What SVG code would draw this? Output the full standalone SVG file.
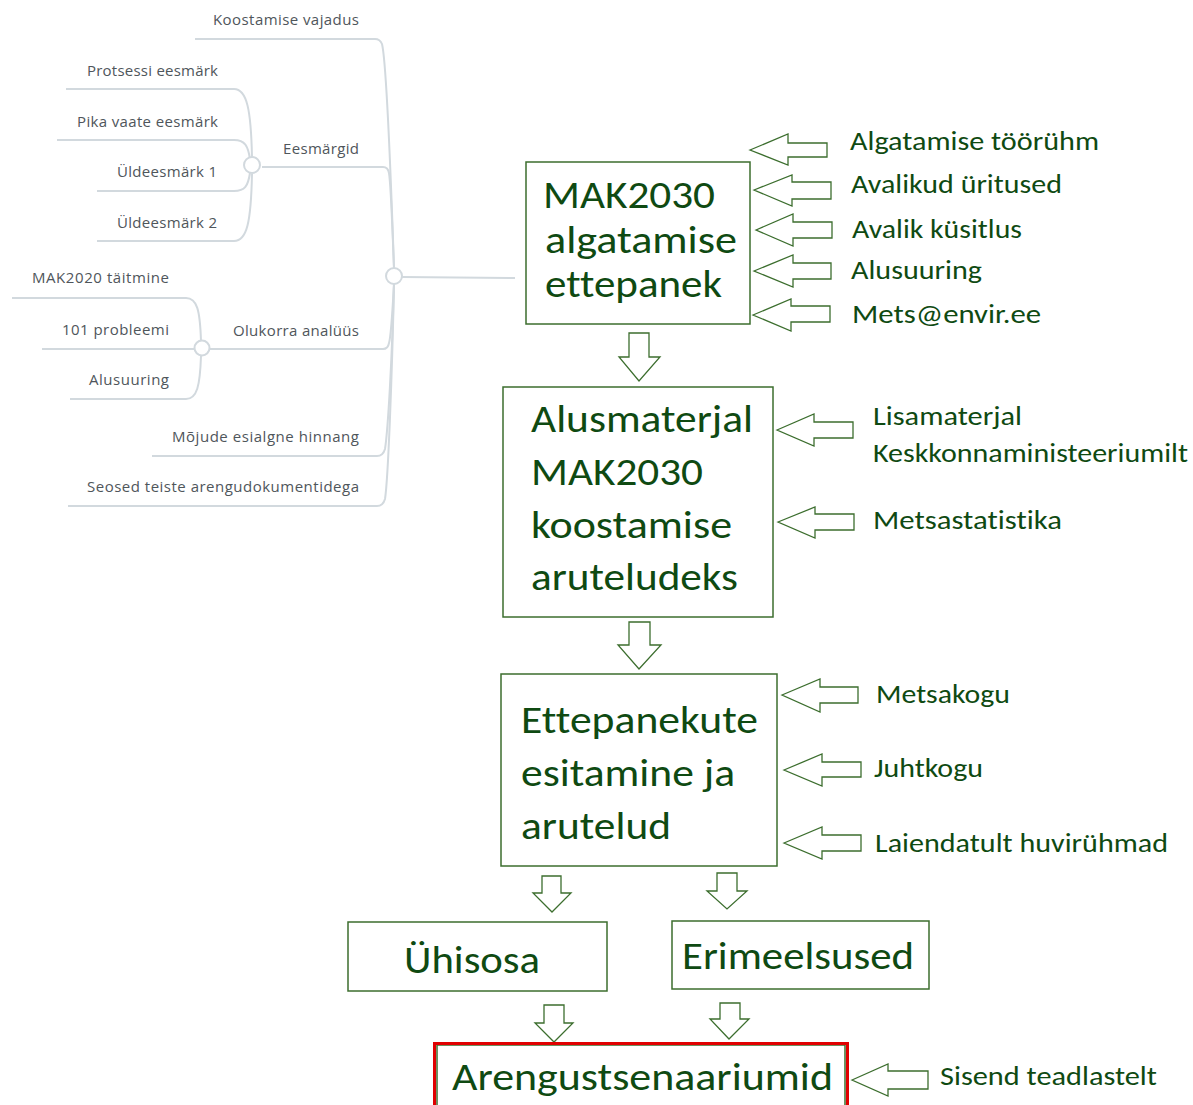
<svg xmlns="http://www.w3.org/2000/svg" width="1193" height="1105" viewBox="0 0 1193 1105">
<style>
.mm{font-family:"Open Sans","Noto Sans","DejaVu Sans",sans-serif;font-size:15px;fill:#4f565b;text-anchor:end}
.mml{fill:none;stroke:#d2d9de;stroke-width:2}
.mmc{fill:#fff;stroke:#d2d9de;stroke-width:2}
.box{fill:#fff;stroke:#3c6e2e;stroke-width:1.5}
.big{font-family:Carlito,Lato,"Open Sans",sans-serif;font-size:38px;fill:#0f4a12;font-variant-ligatures:none}
.lbl{font-family:Carlito,Lato,"Open Sans",sans-serif;font-size:26.5px;fill:#0f4a12;font-variant-ligatures:none}
.arr{fill:#fff;stroke:#3c6e2e;stroke-width:1.3;stroke-linejoin:miter}
</style>
<rect width="1193" height="1105" fill="#fff"/>

<g id="connectors">
  <path class="mml" d="M394,268 C391,180 386,60 382,44 Q380,39 375,39 L195,39"/>
  <path class="mml" d="M394,268 C392,220 391,185 389,173 Q388,167 383,167 L262,167"/>
  <path class="mml" d="M394,284 C392,320 391,337 389,343 Q388,349 383,349 L210,349"/>
  <path class="mml" d="M394,284 C392,360 388,430 385,449 Q383,456 377,456 L152,456"/>
  <path class="mml" d="M394,284 C392,380 388,480 385,499 Q383,506 377,506 L68,506"/>
  <path class="mml" d="M402,277 L515,278"/>
  <path class="mml" d="M252,157 C251,110 247,89 234,89 L66,89"/>
  <path class="mml" d="M250,159 C248,146 245,140 234,140 L57,140"/>
  <path class="mml" d="M250,173 C248,186 245,191 234,191 L97,191"/>
  <path class="mml" d="M252,174 C251,222 247,241 234,241 L97,241"/>
  <path class="mml" d="M201,341 C200,310 197,298 186,298 L12,298"/>
  <path class="mml" d="M195,349 L42,349"/>
  <path class="mml" d="M201,356 C200,386 197,399 186,399 L70,399"/>
  <circle class="mmc" cx="394" cy="276" r="8"/>
  <circle class="mmc" cx="252" cy="165" r="8"/>
  <circle class="mmc" cx="202" cy="348" r="7.5"/>

  <polygon class="arr" points="629,333 649,333 649,357 660,357 639,381 619,357 629,357"/>
  <polygon class="arr" points="629,622 650,622 650,645 661,645 639,669 618,645 629,645"/>
  <polygon class="arr" points="542,876 561,876 561,893 571,893 552,912 533,893 542,893"/>
  <polygon class="arr" points="717,873 737,873 737,891 747,891 727,909 707,891 717,891"/>
  <polygon class="arr" points="544,1005 564,1005 564,1023 573,1023 554,1042 535,1023 544,1023"/>
  <polygon class="arr" points="720,1003 740,1003 740,1019 749,1019 729,1039 710,1019 720,1019"/>

  <polygon class="arr" points="750,150 788,134 788,143 827,143 827,157 788,157 788,165"/>
  <polygon class="arr" points="754,190 792,175 792,182 831,182 831,199 792,199 792,206"/>
  <polygon class="arr" points="756,230 793,214 793,222 832,222 832,238 793,238 793,246"/>
  <polygon class="arr" points="754,271 793,255 793,263 831,263 831,279 793,279 793,287"/>
  <polygon class="arr" points="753,315 791,299 791,306 830,306 830,322 791,322 791,331"/>
  <polygon class="arr" points="777,430 814,414 814,422 853,422 853,438 814,438 814,446"/>
  <polygon class="arr" points="778,522 815,507 815,514 854,514 854,530 815,530 815,538"/>
  <polygon class="arr" points="782,695 820,679 820,687 858,687 858,703 820,703 820,712"/>
  <polygon class="arr" points="784,770 822,754 822,762 861,762 861,777 822,777 822,786"/>
  <polygon class="arr" points="784,843 822,827 822,835 861,835 861,851 822,851 822,859"/>
  <polygon class="arr" points="852,1080 888,1064 888,1071 928,1071 928,1089 888,1089 888,1096"/>
</g>

<g id="mm-koostamise"><text class="mm" x="359" y="25" textLength="146">Koostamise vajadus</text></g>
<g id="mm-eesmargid"><text class="mm" x="359" y="154" textLength="76">Eesmärgid</text></g>
<g id="mm-protsessi"><text class="mm" x="218" y="76" textLength="131">Protsessi eesmärk</text></g>
<g id="mm-pika"><text class="mm" x="218" y="127" textLength="141">Pika vaate eesmärk</text></g>
<g id="mm-yld1"><text class="mm" x="217" y="177" textLength="100">Üldeesmärk 1</text></g>
<g id="mm-yld2"><text class="mm" x="217" y="228" textLength="100">Üldeesmärk 2</text></g>
<g id="mm-olukorra"><text class="mm" x="359" y="336" textLength="126">Olukorra analüüs</text></g>
<g id="mm-mak2020"><text class="mm" x="169" y="283" textLength="137">MAK2020 täitmine</text></g>
<g id="mm-101"><text class="mm" x="169" y="335" textLength="107">101 probleemi</text></g>
<g id="mm-alusuuring"><text class="mm" x="169" y="385" textLength="80">Alusuuring</text></g>
<g id="mm-mojude"><text class="mm" x="359" y="442" textLength="187">Mõjude esialgne hinnang</text></g>
<g id="mm-seosed"><text class="mm" x="359" y="492" textLength="272">Seosed teiste arengudokumentidega</text></g>

<g id="box-algatamine">
  <rect class="box" x="526" y="162" width="224" height="162"/>
  <text class="big" x="543" y="208" textLength="172" lengthAdjust="spacingAndGlyphs">MAK2030</text>
  <text class="big" x="545" y="253" textLength="192" lengthAdjust="spacingAndGlyphs">algatamise</text>
  <text class="big" x="545" y="297" textLength="177" lengthAdjust="spacingAndGlyphs">ettepanek</text>
</g>
<g id="lbl-1"><text class="lbl" x="850" y="150" textLength="249" lengthAdjust="spacingAndGlyphs">Algatamise töörühm</text></g>
<g id="lbl-2"><text class="lbl" x="851" y="193" textLength="211" lengthAdjust="spacingAndGlyphs">Avalikud üritused</text></g>
<g id="lbl-3"><text class="lbl" x="852" y="238" textLength="170" lengthAdjust="spacingAndGlyphs">Avalik küsitlus</text></g>
<g id="lbl-4"><text class="lbl" x="851" y="279" textLength="131" lengthAdjust="spacingAndGlyphs">Alusuuring</text></g>
<g id="lbl-5"><text class="lbl" x="852" y="323" textLength="189" lengthAdjust="spacingAndGlyphs">Mets@envir.ee</text></g>

<g id="box-alusmaterjal">
  <rect class="box" x="503" y="387" width="270" height="230"/>
  <text class="big" x="531" y="432" textLength="222" lengthAdjust="spacingAndGlyphs">Alusmaterjal</text>
  <text class="big" x="531" y="485" textLength="172" lengthAdjust="spacingAndGlyphs">MAK2030</text>
  <text class="big" x="531" y="538" textLength="201" lengthAdjust="spacingAndGlyphs">koostamise</text>
  <text class="big" x="531" y="590" textLength="207" lengthAdjust="spacingAndGlyphs">aruteludeks</text>
</g>
<g id="lbl-6"><text class="lbl" x="873" y="425" textLength="149" lengthAdjust="spacingAndGlyphs">Lisamaterjal</text><text class="lbl" x="873" y="462" textLength="315" lengthAdjust="spacingAndGlyphs">Keskkonnaministeeriumilt</text></g>
<g id="lbl-7"><text class="lbl" x="873" y="529" textLength="189" lengthAdjust="spacingAndGlyphs">Metsastatistika</text></g>

<g id="box-ettepanekud">
  <rect class="box" x="501" y="674" width="276" height="192"/>
  <text class="big" x="521" y="733" textLength="237" lengthAdjust="spacingAndGlyphs">Ettepanekute</text>
  <text class="big" x="521" y="786" textLength="214" lengthAdjust="spacingAndGlyphs">esitamine ja</text>
  <text class="big" x="521" y="839" textLength="150" lengthAdjust="spacingAndGlyphs">arutelud</text>
</g>
<g id="lbl-8"><text class="lbl" x="876" y="703" textLength="134" lengthAdjust="spacingAndGlyphs">Metsakogu</text></g>
<g id="lbl-9"><text class="lbl" x="874" y="777" textLength="109" lengthAdjust="spacingAndGlyphs">Juhtkogu</text></g>
<g id="lbl-10"><text class="lbl" x="875" y="852" textLength="293" lengthAdjust="spacingAndGlyphs">Laiendatult huvirühmad</text></g>

<g id="box-uhisosa">
  <rect class="box" x="348" y="922" width="259" height="69"/>
  <text class="big" x="404" y="973" textLength="136" lengthAdjust="spacingAndGlyphs" style="font-size:39px">Ühisosa</text>
</g>
<g id="box-erimeelsused">
  <rect class="box" x="672" y="921" width="257" height="68"/>
  <text class="big" x="682" y="969" textLength="232" lengthAdjust="spacingAndGlyphs" style="font-size:39px">Erimeelsused</text>
</g>
<g id="box-arengustsenaariumid">
  <rect class="box" x="437" y="1045" width="408" height="80"/>
  <rect x="434.5" y="1043.5" width="413" height="80" fill="none" stroke="#e00000" stroke-width="3"/>
  <text class="big" x="452" y="1090" textLength="381" lengthAdjust="spacingAndGlyphs" style="font-size:39px">Arengustsenaariumid</text>
</g>
<g id="lbl-11"><text class="lbl" x="940" y="1085" textLength="217" lengthAdjust="spacingAndGlyphs">Sisend teadlastelt</text></g>
</svg>
